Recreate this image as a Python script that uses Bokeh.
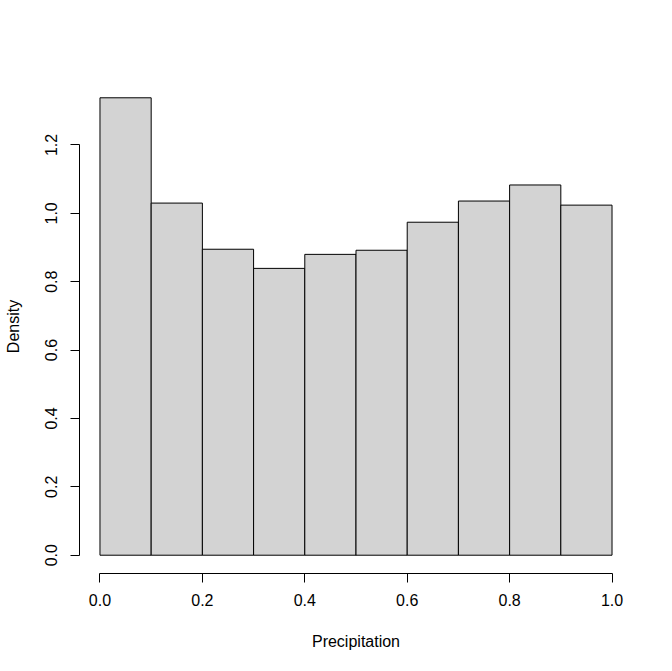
from bokeh.plotting import figure
from bokeh.models import FixedTicker, PrintfTickFormatter, Range1d
from bokeh.embed import file_html
from bokeh.resources import INLINE

# Histogram data (density scale)
bin_edges = [0.0, 0.1, 0.2, 0.3, 0.4, 0.5, 0.6, 0.7, 0.8, 0.9, 1.0]
density = [1.338, 1.030, 0.895, 0.839, 0.880, 0.892, 0.974, 1.036, 1.083, 1.024]
x_ticks = [0.0, 0.2, 0.4, 0.6, 0.8, 1.0]
y_ticks = [0.0, 0.2, 0.4, 0.6, 0.8, 1.0, 1.2]

xmin, xmax = bin_edges[0], bin_edges[-1]
ymax = max(density)
xpad = 0.04 * (xmax - xmin)
ypad = 0.04 * ymax

p = figure(
    output_backend="svg", toolbar_location=None,
    frame_width=553, frame_height=494,
    min_border_left=79, min_border_right=40, min_border_top=79, min_border_bottom=98,
    x_range=Range1d(xmin - xpad, xmax + xpad),
    y_range=Range1d(0 - ypad, ymax + ypad),
)
p.outline_line_color = None
p.xgrid.visible = False
p.ygrid.visible = False
p.background_fill_color = "white"
p.border_fill_color = "white"

p.quad(left=bin_edges[:-1], right=bin_edges[1:], bottom=0, top=density,
       fill_color="#D3D3D3", line_color="black", line_width=1)

font = "Liberation Sans"
for ax, ticks in ((p.xaxis[0], x_ticks), (p.yaxis[0], y_ticks)):
    ax.ticker = FixedTicker(ticks=ticks)
    ax.formatter = PrintfTickFormatter(format="%.1f")
    ax.bounds = (ticks[0], ticks[-1])
    ax.major_tick_in = 0
    ax.major_tick_out = 9
    ax.minor_tick_in = 0
    ax.minor_tick_out = 0
    ax.axis_line_color = "black"
    ax.major_tick_line_color = "black"
    ax.major_label_text_font = font
    ax.major_label_text_font_size = "16px"
    ax.major_label_text_color = "black"
    ax.axis_label_text_font = font
    ax.axis_label_text_font_size = "16px"
    ax.axis_label_text_font_style = "normal"
    ax.axis_label_text_color = "black"

p.xaxis.axis_label = "Precipitation"
p.yaxis.axis_label = "Density"
p.xaxis.major_label_standoff = 11
p.yaxis.major_label_standoff = 13
p.yaxis.major_label_orientation = "vertical"
p.xaxis.axis_label_standoff = 24
p.yaxis.axis_label_standoff = 21

open("out.html", "w").write(file_html(p, INLINE))
